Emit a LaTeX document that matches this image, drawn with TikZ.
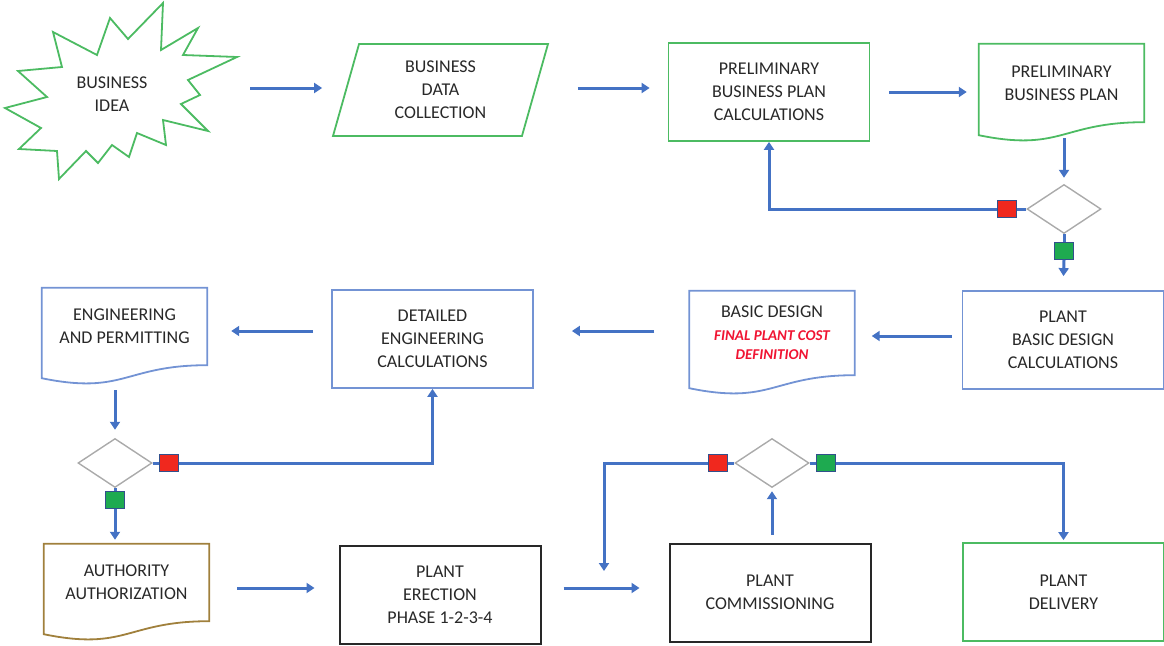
\documentclass[tikz,border=0pt]{standalone}
\usepackage{fontspec}
\setmainfont{Carlito}
\usetikzlibrary{shapes.geometric,arrows.meta}
\definecolor{okgreen}{RGB}{76,187,98}
\definecolor{flowblue}{RGB}{68,114,196}
\definecolor{boxblue}{RGB}{115,147,212}
\definecolor{authgold}{RGB}{160,128,60}
\definecolor{inkgray}{RGB}{40,40,40}
\definecolor{checkgray}{RGB}{170,170,170}
\definecolor{nored}{RGB}{240,40,30}
\definecolor{yesgreen}{RGB}{30,170,80}
\definecolor{markedge}{RGB}{50,80,140}
\definecolor{costred}{RGB}{240,20,50}
\newcommand\costtext[1]{{\color{costred}\bfseries\itshape\fontsize{15}{18}\selectfont #1}}
\tikzset{
  box text/.style={font=\fontsize{18}{23}\selectfont, text=inkgray, align=center},
  step box/.style={box text, draw=#1, line width=1.8pt, minimum width=201pt, minimum height=98pt},
  doc box/.style={box text, minimum width=165pt, minimum height=#1},
  io box/.style={box text, trapezium, trapezium left angle=68, trapezium right angle=112,
    trapezium stretches body, draw=okgreen, line width=1.8pt, minimum width=215pt, minimum height=92pt},
  decision/.style={diamond, draw=checkgray, line width=1.4pt, minimum width=74pt,
    minimum height=49pt, inner sep=0pt},
  no flag/.style={draw=markedge, fill=nored, line width=0.9pt, minimum width=19pt,
    minimum height=17pt, inner sep=0pt},
  yes flag/.style={no flag, fill=yesgreen},
  link/.style={draw=flowblue, line width=3pt},
  flow/.style={link, -{Triangle[length=8pt,width=10pt]}},
  burst/.style={draw=okgreen, line width=1.8pt},
}
\begin{document}
\begin{tikzpicture}[x=1pt, y=-1pt]
  \useasboundingbox (0,0) rectangle (1164,645);

  % top row
  \draw[burst] (18,71) -- (62,67) -- (53,32) -- (97,55) -- (110,18) -- (128,39) -- (163,3)
    -- (161,50) -- (198,28) -- (183,55) -- (237,57) -- (188,80) -- (200,95) -- (181,104)
    -- (208,131) -- (163,120) -- (166,145) -- (137,133) -- (129,157) -- (112,145) -- (98,163)
    -- (86,151) -- (59,179) -- (57,151) -- (19,149) -- (41,128) -- (5,108) -- (47,97) -- cycle;
  \node[box text, minimum width=252pt, minimum height=176pt] (idea) at (112,94) {BUSINESS\\IDEA};
  \node[io box] (data) at (440.5,90) {BUSINESS\\DATA\\COLLECTION};
  \node[step box=okgreen] (prelim) at (769,92) {PRELIMINARY\\BUSINESS PLAN\\CALCULATIONS};
  \node[doc box=78pt] (plan) at (1061.5,83) {PRELIMINARY\\BUSINESS PLAN};
  \node[decision] (check1) at (1064,209) {};
  \node[no flag] (no1) at (1007,209) {};
  \node[yes flag] (yes1) at (1064,251) {};

  % middle row
  \node[step box=boxblue] (design) at (1063,340) {PLANT\\BASIC DESIGN\\CALCULATIONS};
  \node[doc box=84pt] (basic) at (772,333) {BASIC DESIGN\\ \costtext{FINAL PLANT COST}\\[-4pt] \costtext{DEFINITION}};
  \node[step box=boxblue] (detail) at (432.5,339) {DETAILED\\ENGINEERING\\CALCULATIONS};
  \node[doc box=77pt] (eng) at (124.5,326.5) {ENGINEERING\\AND PERMITTING};
  \node[decision] (check2) at (115,463) {};
  \node[no flag] (no2) at (169,463) {};
  \node[yes flag] (yes2) at (115,500) {};

  % bottom row
  \node[doc box=77pt] (auth) at (126.5,582.5) {AUTHORITY\\AUTHORIZATION};
  \node[step box=inkgray, line width=2pt] (erect) at (440,595) {PLANT\\ERECTION\\PHASE 1-2-3-4};
  \node[step box=inkgray, line width=2pt] (comm) at (770,592.5) {PLANT\\COMMISSIONING};
  \node[step box=okgreen] (delivery) at (1063.5,592) {PLANT\\DELIVERY};
  \node[decision] (check3) at (772,463) {};
  \node[no flag] (no3) at (718,463) {};
  \node[yes flag] (yes3) at (826,463) {};
  \coordinate (merge) at (604,571);

  % document outlines
  \foreach \n/\c in {plan/okgreen, basic/boxblue, eng/boxblue, auth/authgold}
    \draw[draw=\c, line width=1.8pt] (\n.south east) -- (\n.north east) -- (\n.north west)
      -- ([yshift=-13pt]\n.south west) .. controls ([yshift=-30pt]\n.south) and (\n.south) .. (\n.south east) -- cycle;

  % connectors
  \draw[flow, shorten <=12pt, shorten >=23pt] ([yshift=2pt]idea.east |- data.west) -- ([yshift=2pt]data.west);
  \draw[flow, shorten <=42pt, shorten >=18pt] ([yshift=2pt]data.east) -- ([yshift=2pt]data.east -| prelim.west);
  \draw[flow, shorten <=19pt, shorten >=12pt] (prelim.east) -- (prelim.east -| plan.west);
  \draw[flow, shorten <=16pt, shorten >=6pt] (plan.south -| check1.north) -- (check1.north);
  \draw[link] (check1.west) -- (no1.east);
  \draw[flow] (no1.west) -| (prelim.south);
  \draw[link] (check1.south) -- (yes1.north);
  \draw[flow, shorten >=14pt] (yes1.south) -- (design.north);

  \draw[flow, shorten <=10pt, shorten >=17pt] ([yshift=4pt]design.west) -- ([yshift=4pt]design.west -| basic.east);
  \draw[flow, shorten <=35pt, shorten >=38pt] ([yshift=2pt]basic.west) -- ([yshift=2pt]basic.west -| detail.east);
  \draw[flow, shorten <=18pt, shorten >=24pt] ([yshift=8pt]detail.west) -- ([yshift=8pt]detail.west -| eng.east);
  \draw[flow, shorten <=25pt, shorten >=8pt] (check2.north |- eng.south) -- (check2.north);
  \draw[link] (check2.east) -- (no2.west);
  \draw[flow] (no2.east) -| (detail.south);
  \draw[link] (check2.south) -- (yes2.north);
  \draw[flow, shorten >=4pt] (yes2.south) -- (yes2.south |- auth.north);

  \draw[flow, shorten <=28pt, shorten >=24pt] ([yshift=-5.5pt]auth.east) -- ([yshift=-5.5pt]auth.east -| erect.west);
  \draw[flow, shorten <=22pt, shorten >=29pt] ([yshift=7pt]erect.east) -- ([yshift=7pt]erect.east -| comm.west);
  \draw[flow, shorten <=8pt, shorten >=3pt] (comm.north -| check3.south) -- (check3.south);
  \draw[link] (check3.west) -- (no3.east);
  \draw[flow] (no3.west) -| (merge);
  \draw[link] (check3.east) -- (yes3.west);
  \draw[flow, shorten >=2pt] (yes3.east) -| (delivery.north);
\end{tikzpicture}
\end{document}
